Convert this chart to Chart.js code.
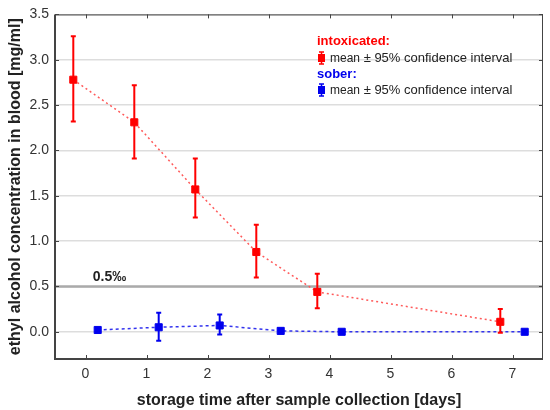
<!DOCTYPE html>
<html><head><meta charset="utf-8">
<script src="https://cdn.jsdelivr.net/npm/chart.js@4.4.0/dist/chart.umd.min.js"></script>
<style>html,body{margin:0;padding:0;background:#fff}#wrap{width:550px;height:410px}</style>
</head><body><div id="wrap"><canvas id="c" width="550" height="410"></canvas></div>
<script>
const xTicks = [0,1,2,3,4,5,6,7];
const yTicks = [0,0.5,1,1.5,2,2.5,3,3.5];
const intoxDays  = [-0.2, 0.8, 1.8, 2.8, 3.8, 6.8];
const intoxMean  = [2.78, 2.31, 1.57, 0.88, 0.44, 0.11];
const intoxLow   = [2.32, 1.91, 1.26, 0.60, 0.26, -0.01];
const intoxHigh  = [3.26, 2.72, 1.91, 1.18, 0.64, 0.25];
const soberDays  = [0.2, 1.2, 2.2, 3.2, 4.2, 7.2];
const soberMean  = [0.02, 0.05, 0.07, 0.01, 0.00, 0.00];
const soberLow   = [0.02, -0.10, -0.03, 0.01, 0.00, 0.00];
const soberHigh  = [0.03, 0.21, 0.19, 0.01, 0.00, 0.00];
const THRESHOLD = 0.5;
const thresholdLabel = '0.5‰';
const xTitle = 'storage time after sample collection [days]';
const yTitle = 'ethyl alcohol concentration in blood [mg/ml]';

const RED = '#ff0000', BLUE = '#0000ee';
const FONT = '"Liberation Sans", Arial, sans-serif';

function pts(xs, ys){ return xs.map((x,i)=>({x:x, y:ys[i]})); }

const extras = {
  id:'extras',
  beforeDatasetsDraw(chart){
    const {ctx, chartArea:a, scales:{x,y}} = chart;
    ctx.save();
    const ty = y.getPixelForValue(THRESHOLD);
    ctx.strokeStyle = '#aaaaaa'; ctx.lineWidth = 2.5;
    ctx.beginPath(); ctx.moveTo(a.left, ty); ctx.lineTo(a.right, ty); ctx.stroke();
    ctx.fillStyle = '#222'; ctx.font = 'bold 14px ' + FONT; ctx.textBaseline='alphabetic';
    ctx.fillText(thresholdLabel, x.getPixelForValue(0.12), ty - 5);
    ctx.restore();
  },
  afterDatasetsDraw(chart){
    const {ctx, chartArea:a, scales:{x,y}} = chart;
    ctx.save();
    const groups = [[intoxDays,intoxLow,intoxHigh,RED],[soberDays,soberLow,soberHigh,BLUE]];
    groups.forEach(([xs,lo,hi,col])=>{
      ctx.strokeStyle = col; ctx.lineWidth = 2;
      xs.forEach((xv,i)=>{
        const px = x.getPixelForValue(xv);
        const p1 = y.getPixelForValue(lo[i]), p2 = y.getPixelForValue(hi[i]);
        if (Math.abs(p1-p2) < 2) return;
        ctx.beginPath();
        ctx.moveTo(px,p1); ctx.lineTo(px,p2);
        ctx.moveTo(px-2.5,p1); ctx.lineTo(px+2.5,p1);
        ctx.moveTo(px-2.5,p2); ctx.lineTo(px+2.5,p2);
        ctx.stroke();
      });
    });
    ctx.strokeStyle = '#444'; ctx.lineWidth = 1;
    ctx.strokeRect(a.left+0.5, a.top+0.5, a.right-a.left-1, a.bottom-a.top-1);
    ctx.lineWidth = 2;
    ctx.beginPath(); ctx.moveTo(a.left, a.top); ctx.lineTo(a.left, a.bottom); ctx.lineTo(a.right, a.bottom); ctx.stroke();
    ctx.lineWidth = 1;
    ctx.beginPath();
    xTicks.forEach(v=>{ const px = Math.round(x.getPixelForValue(v))+0.5;
      ctx.moveTo(px, a.top); ctx.lineTo(px, a.top+4);
      ctx.moveTo(px, a.bottom); ctx.lineTo(px, a.bottom-4); });
    yTicks.forEach(v=>{ const py = Math.round(y.getPixelForValue(v))+0.5;
      ctx.moveTo(a.right, py); ctx.lineTo(a.right-4, py);
      ctx.moveTo(a.left, py); ctx.lineTo(a.left+4, py); });
    ctx.stroke();
    const lx = 317;
    ctx.textBaseline = 'middle';
    ctx.font = 'bold 13px ' + FONT; ctx.fillStyle = RED;
    ctx.fillText('intoxicated:', lx, 41);
    ctx.fillStyle = BLUE;
    ctx.fillText('sober:', lx, 74);
    [[58,RED],[90,BLUE]].forEach(([yy,col])=>{
      ctx.fillStyle = col; ctx.fillRect(lx+1, yy-4, 7, 8);
      ctx.strokeStyle = col; ctx.lineWidth = 1.5;
      ctx.beginPath(); ctx.moveTo(lx+4.5, yy-6); ctx.lineTo(lx+4.5, yy+6);
      ctx.moveTo(lx+2, yy-6); ctx.lineTo(lx+7, yy-6);
      ctx.moveTo(lx+2, yy+6); ctx.lineTo(lx+7, yy+6); ctx.stroke();
      ctx.fillStyle = '#222'; ctx.font = '12px ' + FONT;
      ctx.fillText('mean', lx+13, yy+1);
      const w = ctx.measureText('mean').width;
      ctx.font = '13px ' + FONT;
      ctx.fillText(' ± 95% confidence interval', lx+13+w, yy);
    });
    ctx.restore();
  }
};

new Chart(document.getElementById('c'), {
  type: 'scatter',
  data: { datasets: [
    { label:'intoxicated', data: pts(intoxDays, intoxMean), showLine:true,
      borderColor:'#ff5a5a', borderWidth:1.5, borderDash:[2,3],
      pointStyle:'rect', pointRadius:5, pointBackgroundColor:RED, pointBorderColor:RED, pointBorderWidth:1 },
    { label:'sober', data: pts(soberDays, soberMean), showLine:true,
      borderColor:'#3333ee', borderWidth:1.5, borderDash:[3,3],
      pointStyle:'rect', pointRadius:5, pointBackgroundColor:BLUE, pointBorderColor:BLUE, pointBorderWidth:1 }
  ]},
  options: {
    responsive:false, animation:false, devicePixelRatio:1,
    layout:{ padding:{ top:12, right:7, left:0, bottom:0 } },
    plugins:{ legend:{display:false}, tooltip:{enabled:false} },
    scales:{
      x:{ type:'linear', min:-0.5, max:7.5,
        afterBuildTicks(s){ s.ticks = xTicks.map(v=>({value:v})); },
        afterFit(s){ s.height = 51; },
        grid:{ display:false, drawTicks:false }, border:{display:false},
        ticks:{ color:'#333', font:{family:FONT, size:14}, padding:7 },
        title:{ display:true, text:xTitle, color:'#222', font:{family:FONT, size:16, weight:'bold'}, padding:{top:0,bottom:0} } },
      y:{ type:'linear', min:-0.3, max:3.5,
        afterBuildTicks(s){ s.ticks = yTicks.map(v=>({value:v})); },
        afterFit(s){ s.width = 55; },
        grid:{ color:'#dddddd', lineWidth:1.5, drawTicks:false }, border:{display:false},
        ticks:{ color:'#333', font:{family:FONT, size:14}, padding:6, callback:v=>v.toFixed(1) },
        title:{ display:true, text:yTitle, color:'#222', font:{family:FONT, size:16, weight:'bold'}, padding:{top:6,bottom:0} } }
    }
  },
  plugins:[extras]
});
</script></body></html>
